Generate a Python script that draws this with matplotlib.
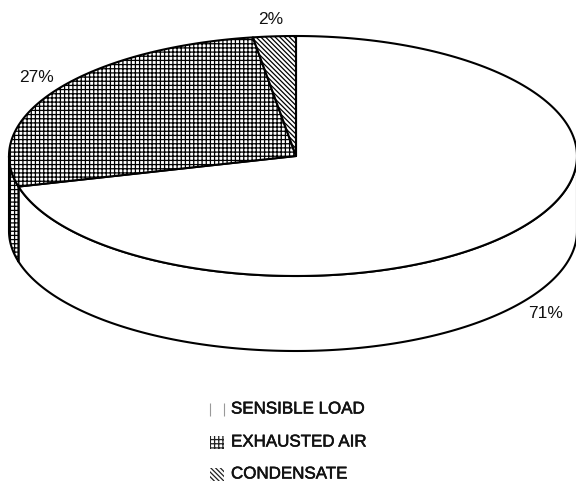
import numpy as np
import matplotlib
matplotlib.use('Agg')
import matplotlib.pyplot as plt
import matplotlib.patheffects as pe
from matplotlib.patches import Polygon, Rectangle

# Data
categories = ['SENSIBLE LOAD', 'EXHAUSTED AIR', 'CONDENSATE']
values = [70.9, 26.7, 2.4]
hatches = ['', '++++', '\\' * 7]
label_pos = [(546, 314), (36, 77), (271, 19)]
legend_y = [409, 442, 474]

plt.rcParams['font.family'] = 'Liberation Sans'
plt.rcParams['hatch.linewidth'] = 0.9

fig = plt.figure(figsize=(5.76, 4.85), dpi=100)
ax = fig.add_axes([0, 0, 1, 1])
ax.set_xlim(0, 576)
ax.set_ylim(485, 0)
ax.axis('off')

# Pie geometry in pixels, the scan is a bit narrower on the right
cx, cy = 296, 157
rx_right, rx_left = 281, 287
ry = 120
depth = 75


def rim(a0, a1, dy=0):
    # angles clockwise from the top, in degrees
    t = np.radians(np.linspace(a0, a1, 200))
    s = np.sin(t)
    return np.column_stack([cx + np.where(s > 0, rx_right, rx_left) * s, cy + dy - ry * np.cos(t)])


# Slices clockwise from 12 o'clock
edges = np.cumsum([0] + values) / sum(values) * 360

# Side wall, only the front half shows (90 to 270 degrees)
for i in range(len(values)):
    a0 = max(edges[i], 90)
    a1 = min(edges[i + 1], 270)
    if a1 <= a0:
        continue
    pts = np.vstack([rim(a0, a1), rim(a0, a1, depth)[::-1]])
    ax.add_patch(Polygon(pts, closed=True, facecolor='white', edgecolor='black',
                         hatch=hatches[i], linewidth=1.5, joinstyle='round'))

# Top face
for i in range(len(values)):
    pts = np.vstack([[cx, cy], rim(edges[i], edges[i + 1])])
    ax.add_patch(Polygon(pts, closed=True, facecolor='white', edgecolor='black',
                         hatch=hatches[i], linewidth=1.5, joinstyle='round'))

for v, (x, y) in zip(values, label_pos):
    ax.text(x, y, '%.0f%%' % v, fontsize=12.5, ha='center', va='center', color='#111111')

# Legend
for i, name in enumerate(categories):
    y = legend_y[i]
    if hatches[i]:
        ax.add_patch(Rectangle((210, y - 5), 14, 13, facecolor='white', edgecolor='#222222',
                               hatch=hatches[i], linewidth=0))
    else:
        # the white swatch only keeps pieces of its border in the scan
        ax.vlines([209.5, 224], y - 5, y + 8, color='#999999', linewidth=0.8)
    ax.text(231, y + 1, name, fontsize=12.2, ha='left', va='center', color='#111111',
            path_effects=[pe.withStroke(linewidth=0.4, foreground='#111111')])

fig.savefig('out.png', dpi=100)
